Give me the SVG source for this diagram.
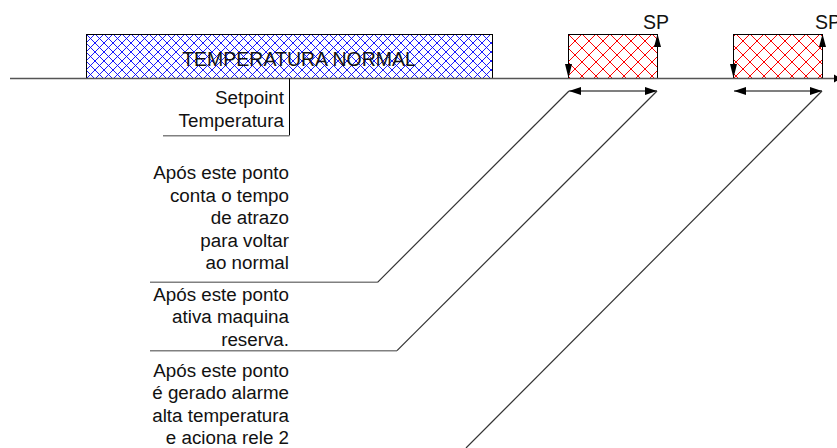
<svg xmlns="http://www.w3.org/2000/svg" width="837" height="448" viewBox="0 0 837 448">
<style>
text{font-family:"Liberation Sans",Arial,sans-serif;fill:#111}
.lbl{font-size:18.8px;text-anchor:end}
.sp{font-size:19.5px}
.ul{stroke:#808080;stroke-width:1.5;fill:none}
.diag{stroke:#333;stroke-width:1.2;fill:none}
.edge{stroke:#000;stroke-width:1;fill:none}
</style>
<defs>
<pattern id="blueX" patternUnits="userSpaceOnUse" width="9" height="9" x="86" y="34">
<rect width="9" height="9" fill="#fff"/>
<path d="M0,0 L9,9 M9,0 L0,9" stroke="#0000ff" stroke-width="0.9"/>
</pattern>
<pattern id="redX" patternUnits="userSpaceOnUse" width="14" height="14" x="568" y="34">
<rect width="14" height="14" fill="#fff"/>
<path d="M0,0 L14,14 M14,0 L0,14" stroke="#ff0000" stroke-width="1"/>
</pattern>
<marker id="ah" viewBox="0 0 12 8" refX="12" refY="4" markerWidth="12" markerHeight="8" markerUnits="userSpaceOnUse" orient="auto-start-reverse">
<path d="M0,0 L12,4 L0,8 Z" fill="#000"/>
</marker>
</defs>

<g id="normal-band">
<rect x="86.5" y="34.5" width="406" height="44" fill="url(#blueX)" stroke="#000" stroke-width="1"/>
<text x="299" y="66" font-size="19.5" text-anchor="middle">TEMPERATURA NORMAL</text>
</g>

<g id="sp-box-1">
<rect x="568.5" y="34.5" width="89" height="44" fill="url(#redX)" stroke="#000" stroke-width="1"/>
<polygon points="565,64 572,64 568.5,78" fill="#000"/>
<polygon points="654,47 661,47 657.5,34" fill="#000"/>
<text class="sp" x="643" y="29">SP</text>
</g>

<g id="sp-box-2">
<rect x="733.5" y="34.5" width="89" height="44" fill="url(#redX)" stroke="#000" stroke-width="1"/>
<polygon points="730,64 737,64 733.5,78" fill="#000"/>
<polygon points="819,47 826,47 822.5,34" fill="#000"/>
<text class="sp" x="815" y="29">SP</text>
</g>

<g id="label-setpoint">
<text class="lbl" x="284" y="104">Setpoint</text>
<text class="lbl" x="284" y="126.5">Temperatura</text>
</g>

<g id="label-atraso">
<text class="lbl" x="289" y="179">Após este ponto</text>
<text class="lbl" x="289" y="201.6">conta o tempo</text>
<text class="lbl" x="289" y="224.2">de atrazo</text>
<text class="lbl" x="289" y="246.8">para voltar</text>
<text class="lbl" x="289" y="269.4">ao normal</text>
</g>

<g id="label-reserva">
<text class="lbl" x="289" y="300.5">Após este ponto</text>
<text class="lbl" x="289" y="323">ativa maquina</text>
<text class="lbl" x="289" y="345.5">reserva.</text>
</g>

<g id="label-alarme">
<text class="lbl" x="289" y="376.5">Após este ponto</text>
<text class="lbl" x="289" y="399">é gerado alarme</text>
<text class="lbl" x="289" y="421.5">alta temperatura</text>
<text class="lbl" x="289" y="444">e aciona rele 2</text>
</g>

<g id="connectors">
<line x1="10" y1="78.5" x2="837" y2="78.5" stroke="#555" stroke-width="1.5"/>
<polygon points="834,74.5 841,78.5 834,82.5" fill="#000"/>
<polyline class="edge" points="289.5,78.5 289.5,135.5"/>
<line class="ul" x1="163" y1="135.7" x2="289.5" y2="135.7"/>
<line x1="569" y1="91" x2="657" y2="91" stroke="#000" stroke-width="1.2" marker-start="url(#ah)" marker-end="url(#ah)"/>
<line x1="734" y1="91" x2="822" y2="91" stroke="#000" stroke-width="1.2" marker-start="url(#ah)" marker-end="url(#ah)"/>
<line class="ul" x1="150" y1="282.3" x2="377.5" y2="282.3"/>
<line class="diag" x1="377.5" y1="282.3" x2="569" y2="91"/>
<line class="ul" x1="150" y1="350.7" x2="397" y2="350.7"/>
<line class="diag" x1="397" y1="350.7" x2="657" y2="91"/>
<line class="diag" x1="466" y1="448" x2="822" y2="91"/>
</g>
</svg>
